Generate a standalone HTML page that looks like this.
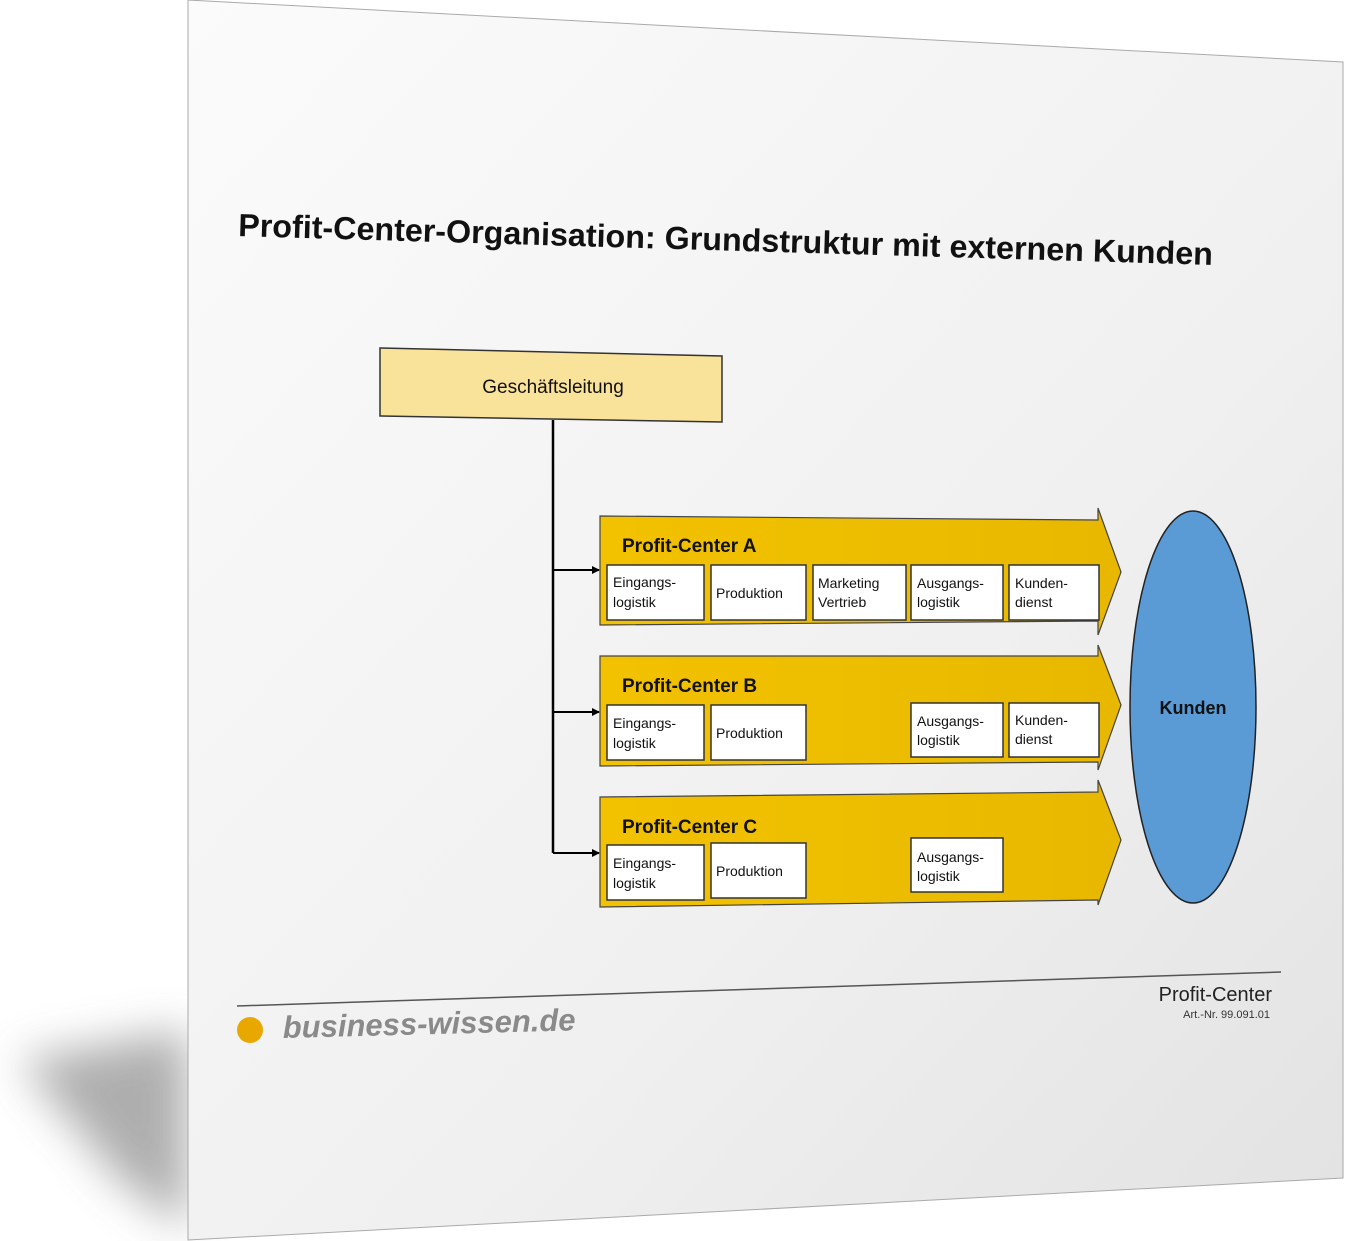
<!DOCTYPE html>
<html><head><meta charset="utf-8"><style>
html,body{margin:0;padding:0;background:#fff;}
svg{display:block;}
text{font-family:"Liberation Sans",sans-serif;}
</style></head><body>
<svg width="1345" height="1241" viewBox="0 0 1345 1241" xmlns="http://www.w3.org/2000/svg">
<defs>
<linearGradient id="pg" x1="0" y1="0" x2="1" y2="1">
<stop offset="0" stop-color="#fbfbfb"/><stop offset="0.6" stop-color="#f0f0f0"/><stop offset="1" stop-color="#e2e2e2"/>
</linearGradient>
<filter id="bl" x="-50%" y="-50%" width="200%" height="200%"><feGaussianBlur stdDeviation="22"/></filter>
<linearGradient id="yg" x1="0" y1="0" x2="1" y2="0">
<stop offset="0" stop-color="#f2c200"/><stop offset="1" stop-color="#e8b800"/>
</linearGradient>
<marker id="ar" markerWidth="8" markerHeight="8" refX="7" refY="4" orient="auto" markerUnits="userSpaceOnUse"><path d="M0,0 L8,4 L0,8z" fill="#000"/></marker>
</defs>
<polygon points="188,1030 20,1060 120,1180 188,1230" fill="#9a9a9a" filter="url(#bl)" opacity="0.8"/>
<polygon points="188,0 1343,62 1343,1178 188,1240" fill="url(#pg)" stroke="#aaa" stroke-width="1"/>
<text x="238" y="236" font-size="32" font-weight="bold" fill="#111" textLength="975" lengthAdjust="spacingAndGlyphs" transform="rotate(1.7 238 236)">Profit-Center-Organisation: Grundstruktur mit externen Kunden</text>

<polygon points="380,348 722,356 722,422 380,416" fill="#f9e39a" stroke="#333" stroke-width="1.5"/>
<text x="553" y="393" font-size="19" text-anchor="middle" fill="#111">Geschäftsleitung</text>

<path d="M553,420 V853" stroke="#000" stroke-width="2.5" fill="none"/>
<path d="M553,570 H599" stroke="#000" stroke-width="2" marker-end="url(#ar)"/>
<path d="M553,712 H599" stroke="#000" stroke-width="2" marker-end="url(#ar)"/>
<path d="M553,853 H599" stroke="#000" stroke-width="2" marker-end="url(#ar)"/>

<polygon points="600,516 1098,520 1098,508 1121,572 1098,635 1098,621 600,625" fill="url(#yg)" stroke="#444" stroke-width="1.2"/>
<polygon points="600,656 1098,656 1098,645 1121,705 1098,770 1098,762 600,766" fill="url(#yg)" stroke="#444" stroke-width="1.2"/>
<polygon points="600,797 1098,792 1098,780 1121,840 1098,905 1098,900 600,907" fill="url(#yg)" stroke="#444" stroke-width="1.2"/>

<g font-size="19" font-weight="bold" fill="#111">
<text x="622" y="552">Profit-Center A</text>
<text x="622" y="692">Profit-Center B</text>
<text x="622" y="833">Profit-Center C</text>
</g>

<g fill="#fff" stroke="#333" stroke-width="1.5">
<rect x="607" y="565" width="97" height="55"/><rect x="711" y="565" width="95" height="55"/><rect x="813" y="565" width="93" height="55"/><rect x="911" y="565" width="92" height="55"/><rect x="1009" y="565" width="90" height="55"/>
<rect x="607" y="705" width="97" height="55"/><rect x="711" y="705" width="95" height="55"/><rect x="911" y="703" width="92" height="54"/><rect x="1009" y="703" width="90" height="54"/>
<rect x="607" y="845" width="97" height="55"/><rect x="711" y="843" width="95" height="55"/><rect x="911" y="838" width="92" height="54"/>
</g>
<g font-size="14" fill="#111">
<text x="613" y="587">Eingangs-</text><text x="613" y="607">logistik</text>
<text x="716" y="598">Produktion</text>
<text x="818" y="588">Marketing</text><text x="818" y="607">Vertrieb</text>
<text x="917" y="588">Ausgangs-</text><text x="917" y="607">logistik</text>
<text x="1015" y="588">Kunden-</text><text x="1015" y="607">dienst</text>
<text x="613" y="728">Eingangs-</text><text x="613" y="748">logistik</text>
<text x="716" y="738">Produktion</text>
<text x="917" y="726">Ausgangs-</text><text x="917" y="745">logistik</text>
<text x="1015" y="725">Kunden-</text><text x="1015" y="744">dienst</text>
<text x="613" y="868">Eingangs-</text><text x="613" y="888">logistik</text>
<text x="716" y="876">Produktion</text>
<text x="917" y="862">Ausgangs-</text><text x="917" y="881">logistik</text>
</g>

<ellipse cx="1193" cy="707" rx="63" ry="196" fill="#5b9bd5" stroke="#222" stroke-width="1.5"/>
<text x="1193" y="714" font-size="18" font-weight="bold" text-anchor="middle" fill="#111">Kunden</text>

<line x1="237" y1="1006" x2="1281" y2="972" stroke="#555" stroke-width="1.5"/>
<circle cx="250" cy="1030" r="13" fill="#e8a800"/>
<text x="283" y="1038" font-size="31" font-weight="bold" font-style="italic" fill="#8a8a8a" transform="rotate(-1.5 283 1038)">business-wissen.de</text>
<text x="1272" y="1001" font-size="20" text-anchor="end" fill="#222">Profit-Center</text>
<text x="1270" y="1018" font-size="11" text-anchor="end" fill="#333">Art.-Nr. 99.091.01</text>
</svg>
</body></html>
